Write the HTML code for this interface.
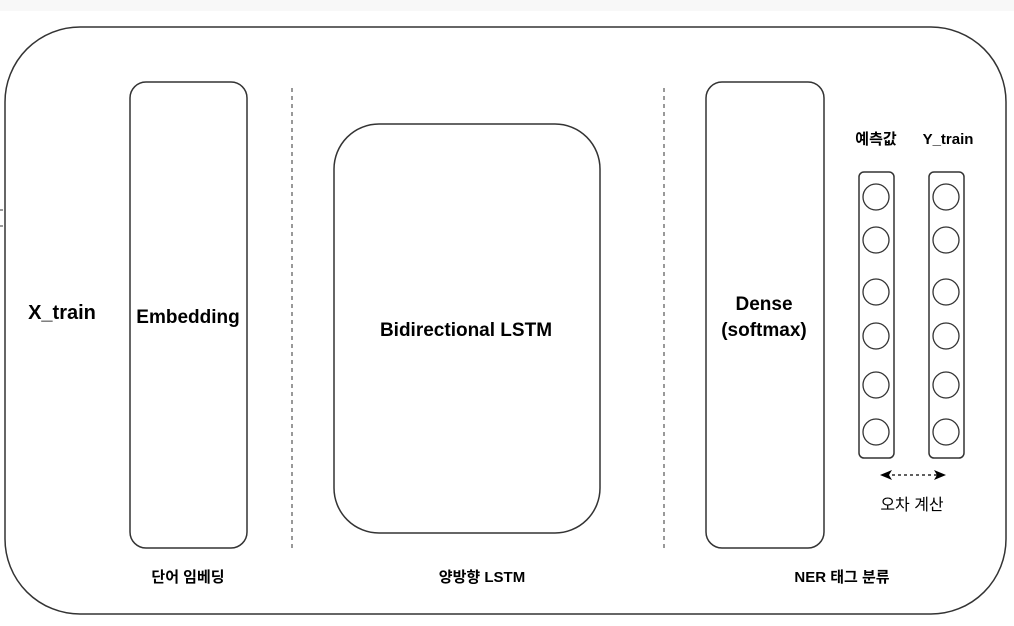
<!DOCTYPE html>
<html><head><meta charset="utf-8"><style>
body{margin:0;width:1014px;height:621px;background:#fff;overflow:hidden}
text{font-family:"Liberation Sans","Noto Sans CJK KR",sans-serif;fill:#000}
</style></head><body>
<svg width="1014" height="621" xmlns="http://www.w3.org/2000/svg">
<rect x="0" y="0" width="1014" height="11" fill="#f8f8f8"/>
<g fill="none" stroke="#333" stroke-width="1.5">
<rect x="5" y="27" width="1001" height="587" rx="75"/>
<rect x="130" y="82" width="117" height="466" rx="16"/>
<rect x="334" y="124" width="266" height="409" rx="45"/>
<rect x="706" y="82" width="118" height="466" rx="16"/>
<rect x="859" y="172" width="35" height="286" rx="5"/>
<rect x="929" y="172" width="35" height="286" rx="5"/>
<line x1="292" y1="88" x2="292" y2="548" stroke-dasharray="4,4" stroke-width="1"/>
<line x1="664" y1="88" x2="664" y2="548" stroke-dasharray="4,4" stroke-width="1"/>
<g stroke-width="1.3">
<circle cx="876" cy="197" r="13"/><circle cx="876" cy="240" r="13"/><circle cx="876" cy="292" r="13"/>
<circle cx="876" cy="336" r="13"/><circle cx="876" cy="385" r="13"/><circle cx="876" cy="432" r="13"/>
<circle cx="946" cy="197" r="13"/><circle cx="946" cy="240" r="13"/><circle cx="946" cy="292" r="13"/>
<circle cx="946" cy="336" r="13"/><circle cx="946" cy="385" r="13"/><circle cx="946" cy="432" r="13"/>
</g>
<line x1="886" y1="475" x2="938" y2="475" stroke="#000" stroke-width="1.3" stroke-dasharray="3,3"/>
</g>
<path d="M880 475 L892 470 L889 475 L892 480 Z M946 475 L934 470 L937 475 L934 480 Z" fill="#000"/>
<line x1="0" y1="210" x2="3" y2="210" stroke="#333"/><line x1="0" y1="226" x2="3" y2="226" stroke="#333"/>
<text x="62" y="319" font-size="20" font-weight="bold" text-anchor="middle">X_train</text>
<text x="188" y="323" font-size="19" font-weight="bold" text-anchor="middle">Embedding</text>
<text x="466" y="336" font-size="19" font-weight="bold" text-anchor="middle">Bidirectional LSTM</text>
<text x="764" y="310" font-size="19" font-weight="bold" text-anchor="middle">Dense</text>
<text x="764" y="336" font-size="19" font-weight="bold" text-anchor="middle">(softmax)</text>
<text x="876" y="144" font-size="15" font-weight="bold" text-anchor="middle">예측값</text>
<text x="948" y="144" font-size="15" font-weight="bold" text-anchor="middle">Y_train</text>
<text x="912" y="510" font-size="16" text-anchor="middle">오차 계산</text>
<text x="188" y="582" font-size="15" font-weight="bold" text-anchor="middle">단어 임베딩</text>
<text x="482" y="582" font-size="15" font-weight="bold" text-anchor="middle">양방향 LSTM</text>
<text x="842" y="582" font-size="15" font-weight="bold" text-anchor="middle">NER 태그 분류</text>
</svg>
</body></html>
